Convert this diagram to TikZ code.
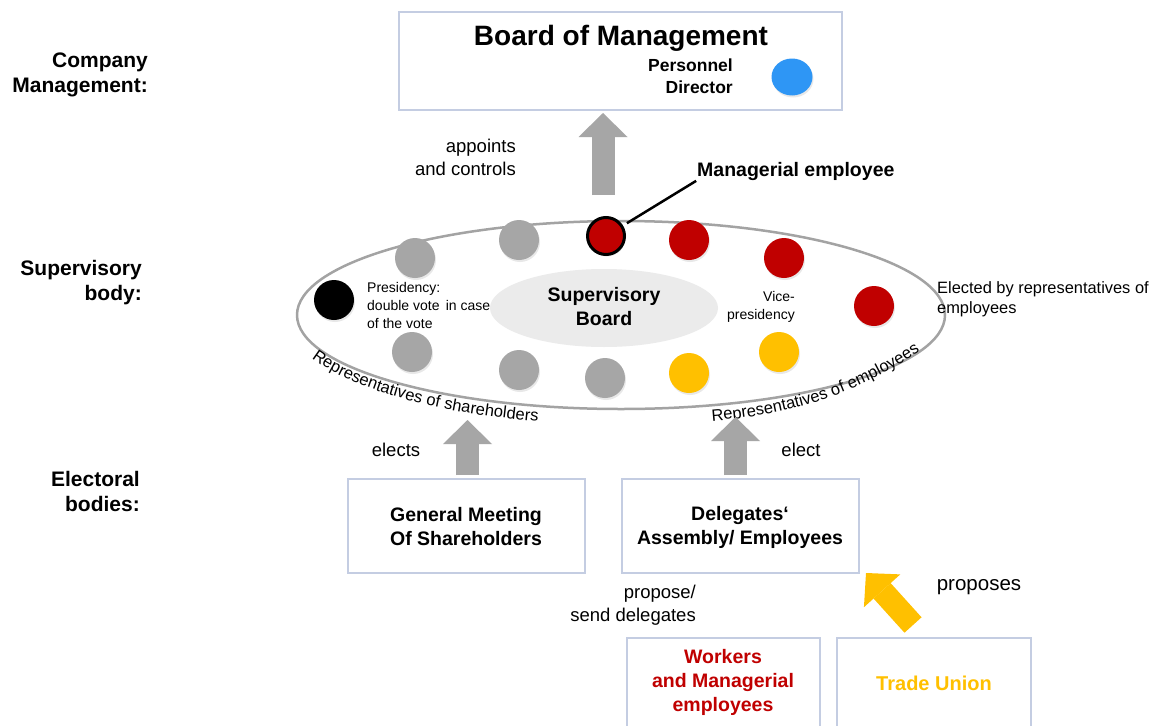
\documentclass[tikz,border=0pt]{standalone}
\usepackage{fontspec}
\setmainfont{Liberation Sans}
\usetikzlibrary{shapes.geometric,arrows.meta,decorations.text,calc,shadows}

\definecolor{boxline}{RGB}{196,205,226}
\definecolor{ringgray}{RGB}{163,163,163}
\definecolor{seatgray}{RGB}{166,166,166}
\definecolor{seatred}{RGB}{192,0,0}
\definecolor{seatyellow}{RGB}{255,192,0}
\definecolor{seatblue}{RGB}{46,150,245}
\definecolor{boardfill}{RGB}{235,235,235}
\definecolor{arrowgray}{RGB}{166,166,166}

\tikzset{
  frame/.style={draw=boxline, line width=2.5pt, inner sep=0pt, outer sep=0pt},
  seat/.style={circle, minimum size=40pt, inner sep=0pt, outer sep=0pt,
    drop shadow={shadow xshift=1pt, shadow yshift=-2pt, opacity=0.18}},
  blockarrow/.style={draw=#1, line width=23pt,
    -{Triangle[length=24pt 0 0, width=49pt 0 0, line width=0pt 0 0, fill=#1]}},
  rowlabel/.style={font=\fontsize{21}{25}\selectfont\bfseries, align=right,
    anchor=east, inner sep=0pt},
  boxtext/.style={font=\fontsize{19.5}{24}\selectfont\bfseries, align=center,
    inner sep=0pt},
  remark/.style={font=\fontsize{18.5}{23}\selectfont, inner sep=0pt},
  smallnote/.style={font=\fontsize{14}{18}\selectfont, inner sep=0pt},
  curvedtext/.style={decorate, decoration={text along path, text align=left,
    text={|\fontsize{16.5}{18}\selectfont|#1}}}
}

\begin{document}
\begin{tikzpicture}[x=1pt, y=-1pt]
  \useasboundingbox (0,0) rectangle (1155,725);
  \fill[white] (0,0) rectangle (1155,725);

  % row labels
  \node[rowlabel] (lcm) at (148,74.5) {Company\\Management:};
  \node[rowlabel] (lsb) at (142,283) {Supervisory\\body:};
  \node[rowlabel] (leb) at (140,491.5) {Electoral\\bodies:};

  % board of management
  \node[frame, minimum width=443pt, minimum height=98pt] (bom) at (620.5,61) {};
  \node[font=\fontsize{28}{32}\selectfont\bfseries, inner sep=0pt] (bomtitle) at (621,38) {Board of Management};
  \node[font=\fontsize{17.5}{22}\selectfont\bfseries, align=right, anchor=east, inner sep=0pt] (pdir) at (733,76) {Personnel\\Director};
  \node[seat, fill=seatblue, minimum width=41pt, minimum height=37pt, ellipse] (blue) at (792,77) {};

  % supervisory board ring
  \node[ellipse, draw=ringgray, line width=2.5pt, minimum width=648pt, minimum height=188pt, inner sep=0pt, outer sep=0pt] (sb) at (621,315) {};
  \node[ellipse, fill=boardfill, minimum width=228pt, minimum height=78pt, inner sep=0pt] (sbcore) at (604,308) {};
  \node[boxtext] (sbtext) at (604,307) {Supervisory\\Board};

  % seats
  \node[seat, fill=seatgray] (s1) at (415,258) {};
  \node[seat, fill=seatgray] (s2) at (519,240) {};
  \node[seat, fill=seatred, draw=black, line width=3pt, minimum size=37pt] (me) at (606,236) {};
  \node[seat, fill=seatred] (s4) at (689,240) {};
  \node[seat, fill=seatred] (s5) at (784,258) {};
  \node[seat, fill=black] (pres) at (334,300) {};
  \node[seat, fill=seatred] (s7) at (874,306) {};
  \node[seat, fill=seatgray] (s8) at (412,352) {};
  \node[seat, fill=seatgray] (s9) at (519,370) {};
  \node[seat, fill=seatgray] (s10) at (605,378) {};
  \node[seat, fill=seatyellow] (s11) at (689,373) {};
  \node[seat, fill=seatyellow] (s12) at (779,352) {};

  \node[smallnote, align=left, anchor=west] (prestext) at (367,305) {Presidency:\\double vote\, in case\\of the vote};
  \node[smallnote, align=right, anchor=east] (vicetext) at (795,307) {Vice-\\presidency};
  \node[font=\fontsize{16.4}{20}\selectfont, align=left, anchor=west, inner sep=0pt] (electedby) at (937,299) {Elected by representatives of\\employees};

  % managerial employee callout
  \node[font=\fontsize{19.5}{24}\selectfont\bfseries, anchor=west, inner sep=0pt] (melab) at (697,171) {Managerial employee};
  \draw[line width=2.5pt, shorten <=6pt, shorten >=1pt] (me) -- (melab.south west);

  % curved captions along the ring
  \path[curvedtext={Representatives of shareholders}]
    (sb.center) ++(157:336 and 110) arc[start angle=157, end angle=95, x radius=336, y radius=110];
  \coordinate (empstart) at (712,421);
  \coordinate (empend) at (930,345);
  \path[curvedtext={Representatives of employees}]
    (empstart) .. controls (800,414) and (860,392) .. (empend);

  % appoints and controls
  \coordinate (upfoot) at (603,195);
  \draw[blockarrow=arrowgray, shorten >=3pt] (upfoot) -- (upfoot |- bom.south);
  \node[remark, align=right, anchor=east] (appoints) at (516,157) {appoints\\and controls};

  % electoral bodies
  \node[frame, minimum width=237pt, minimum height=94pt] (gm) at (466.5,526) {};
  \node[boxtext] (gmtext) at (466,527) {General Meeting\\Of Shareholders};
  \node[frame, minimum width=237pt, minimum height=94pt] (del) at (740.5,526) {};
  \node[boxtext] (deltext) at (740,527) {Delegates‘\\Assembly/ Employees};

  \coordinate (shtip) at (467.5,420);
  \coordinate (emtip) at (735.5,417);
  \draw[blockarrow=arrowgray] ([xshift=1pt, yshift=4pt]gm.north) -- (shtip);
  \draw[blockarrow=arrowgray] ([xshift=-5pt, yshift=4pt]del.north) -- (emtip);
  \node[remark] (elects) at (396,450) {elects};
  \node[remark] (elect) at (801,450) {elect};

  % groups proposing candidates
  \node[frame, minimum width=193pt, minimum height=92pt] (wk) at (723.5,684) {};
  \node[boxtext, text=seatred] (wktext) at (723,682) {Workers\\and Managerial\\employees};
  \node[frame, minimum width=194pt, minimum height=92pt] (tu) at (934,684) {};
  \node[font=\fontsize{20}{24}\selectfont\bfseries, text=seatyellow, inner sep=0pt] (tutext) at (934,683) {Trade Union};

  \draw[blockarrow=seatyellow] ([xshift=-21pt, yshift=13pt]tu.north) -- ([xshift=7pt]del.south east);
  \node[font=\fontsize{20.5}{24}\selectfont, inner sep=0pt] (proposes) at (979,587) {proposes};
  \node[remark, align=right, anchor=east] (propose) at (696,605) {propose/\\send delegates};
\end{tikzpicture}
\end{document}
